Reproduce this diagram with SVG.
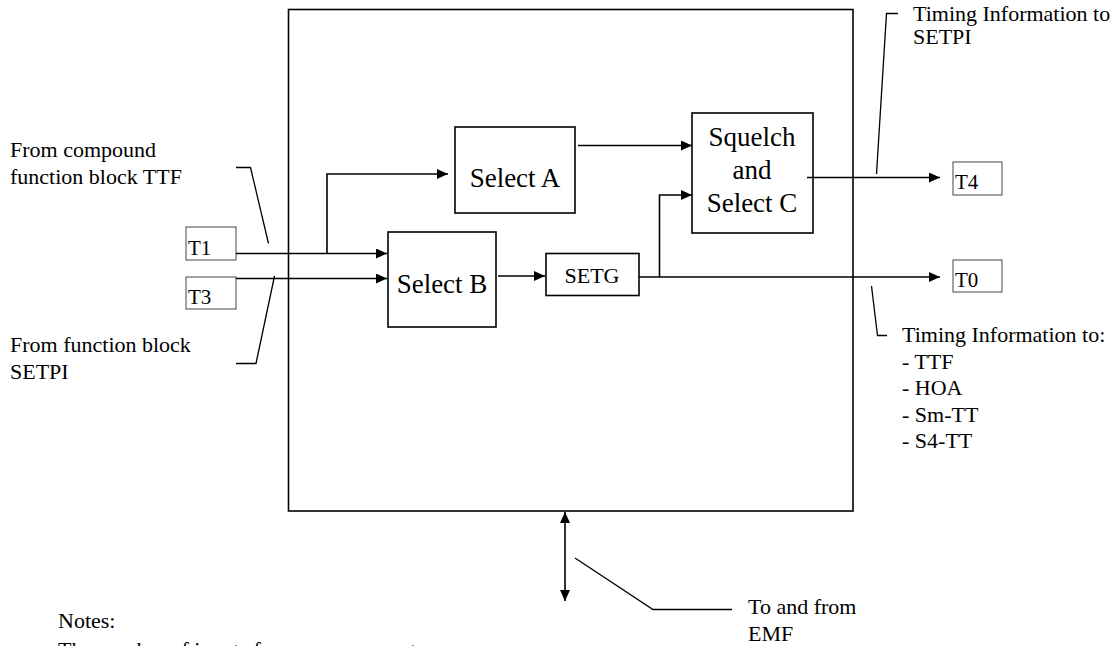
<svg xmlns="http://www.w3.org/2000/svg" width="1119" height="646" viewBox="0 0 1119 646">
<defs>
<style>
text{font-family:"Liberation Serif","Times New Roman",serif;fill:#000}
.lbl{font-size:22px}
.blk{font-size:27px}
.port{font-size:21px}
.box{fill:#fff;stroke:#000;stroke-width:1.6}
.pbox{fill:#fff;stroke:#444;stroke-width:1}
.ln{fill:none;stroke:#000;stroke-width:1.6}
.ld{fill:none;stroke:#000;stroke-width:1.3}
.ar{marker-end:url(#ah)}
</style>
<marker id="ah" markerUnits="userSpaceOnUse" markerWidth="11" markerHeight="10" refX="11" refY="5" orient="auto-start-reverse">
<path d="M0,0 L11,5 L0,10 z" fill="#000"/>
</marker>
</defs>
<rect width="1119" height="646" fill="#fff"/>
<g id="main"><rect class="box" x="288.5" y="9.5" width="564.5" height="501.5" fill="none"/></g>
<g id="selectA"><rect class="box" x="455" y="127" width="120" height="86"/><text class="blk" x="515" y="187" text-anchor="middle">Select A</text></g>
<g id="selectB"><rect class="box" x="388" y="232" width="108" height="95"/><text class="blk" x="442" y="293" text-anchor="middle">Select B</text></g>
<g id="setg"><rect class="box" x="546" y="253.5" width="93" height="42"/><text x="592" y="283" text-anchor="middle" font-size="22">SETG</text></g>
<g id="squelch"><rect class="box" x="692" y="113" width="121" height="120"/><text class="blk" x="752" y="146" text-anchor="middle">Squelch</text><text class="blk" x="752" y="179" text-anchor="middle">and</text><text class="blk" x="752" y="212" text-anchor="middle">Select C</text></g>
<g id="t1"><rect class="pbox" x="186" y="227" width="50" height="33"/><text class="port" x="188" y="255">T1</text></g>
<g id="t3"><rect class="pbox" x="186" y="277" width="50" height="32"/><text class="port" x="188" y="304">T3</text></g>
<g id="t4"><rect class="pbox" x="953" y="162" width="49" height="33"/><text class="port" x="955" y="188.5">T4</text></g>
<g id="t0"><rect class="pbox" x="953" y="260" width="49" height="32"/><text class="port" x="955" y="286.5">T0</text></g>
<g id="connectors">
<path class="ln ar" d="M236,253.5 H387"/>
<path class="ln ar" d="M327,253.5 V174 H448"/>
<path class="ln ar" d="M236,278.5 H387"/>
<path class="ln ar" d="M498,276 H545"/>
<path class="ln ar" d="M578,145.5 H692"/>
<path class="ln ar" d="M639,277 H940"/>
<path class="ln ar" d="M659.5,277 V195 H692"/>
<path class="ln ar" d="M807,177.5 H940"/>
<path class="ln" d="M565,512 V601" marker-start="url(#ah)" marker-end="url(#ah)"/>
</g>
<g id="leaders">
<path class="ld" d="M236,167.5 H250.5 L268.5,243.5"/>
<path class="ld" d="M236,363.5 H256 L274.5,276"/>
<path class="ld" d="M898,13.5 H886.5 L876.5,174"/>
<path class="ld" d="M871.5,286 L877.5,335.5 H887"/>
<path class="ld" d="M575,558 L653,609.5 H732"/>
</g>
<g id="labels">
<text class="lbl" x="10" y="157">From compound</text>
<text class="lbl" x="10" y="183.5">function block TTF</text>
<text class="lbl" x="10" y="352">From function block</text>
<text class="lbl" x="10" y="378.5">SETPI</text>
<text class="lbl" x="913" y="20.5">Timing Information to</text>
<text class="lbl" x="913" y="43.5">SETPI</text>
<text class="lbl" x="902" y="342">Timing Information to:</text>
<text class="lbl" x="902" y="368.5">- TTF</text>
<text class="lbl" x="902" y="395">- HOA</text>
<text class="lbl" x="902" y="421.5">- Sm-TT</text>
<text class="lbl" x="902" y="448">- S4-TT</text>
<text class="lbl" x="748" y="614">To and from</text>
<text class="lbl" x="748" y="641">EMF</text>
<text class="lbl" x="58" y="628">Notes:</text>
<text class="lbl" x="58" y="657">The number of inputs for per component</text>
</g>
</svg>
